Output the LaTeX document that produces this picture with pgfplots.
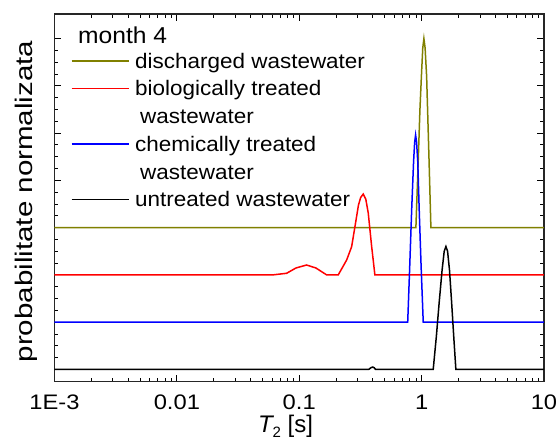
\documentclass[border=0pt]{standalone}
\usepackage{pgfplots}
\pgfplotsset{compat=1.18}
\usepackage{fontspec}
\setmainfont{Liberation Sans}
\newfontfamily\tickfont[FakeStretch=1.13]{Liberation Sans}
\newfontfamily\legfont[FakeStretch=1.07]{Liberation Sans}
\newfontfamily\ylabfont[FakeStretch=1.23]{Liberation Sans}
\definecolor{olivec}{RGB}{128,128,0}
\begin{document}
\begin{tikzpicture}
\path[use as bounding box] (-54.5pt,-59.3pt) rectangle (505.5pt,381.7pt);
\begin{axis}[
  at={(0,0)}, anchor=south west,
  scale only axis, width=489.5pt, height=367.7pt,
  xmode=log, xmin=1e-3, xmax=10,
  ymin=-0.26, ymax=7.52,
  xtick={0.001,0.01,0.1,1,10},
  xticklabels={1E-3,0.01,0.1,1,10},
  ytick={0,1,2,3,4,5,6,7},
  yticklabels={},
  minor y tick num=3,
  tick align=inside,
  major tick length=7pt, minor tick length=4pt,
  every tick/.style={black, line width=0.9pt},
  axis line style={black!85, line width=1.2pt},
  xticklabel style={font=\tickfont\fontsize{21}{25}\selectfont, inner sep=0pt, yshift=-13pt},
  xlabel={{\itshape T}\raisebox{-0.22em}{\fontsize{15}{17}\selectfont 2} [s]},
  xlabel style={at={(axis description cs:0.472,0)}, anchor=north, inner sep=0pt, yshift=-33pt, font=\fontsize{24}{27}\selectfont},
  ylabel={probabilitate normalizata},
  ylabel style={at={(axis description cs:-0.0337,0.49)}, anchor=south, inner sep=0pt, rotate=0, font=\ylabfont\fontsize{24}{28}\selectfont},
  legend cell align=left,
  legend style={at={(axis description cs:0.0337,0.9054)}, anchor=north west, draw=none, fill=none, inner sep=0pt, outer sep=0pt, row sep=0pt, column sep=6pt,
    nodes={inner sep=0pt, text height=19.5pt, text depth=8.2pt, anchor=base west, font=\legfont\fontsize{21}{25}\selectfont}},
  legend image code/.code={\draw[#1, line width=1.2pt] (0pt,7.3pt) -- (57pt,7.3pt);},
  every axis plot/.append style={line width=1.5pt},
]
\addplot[olivec] coordinates {
(0.001,3) (0.898,3) (0.935,4.3) (0.969,5.5) (1.0,6.3) (1.022,6.8) (1.044,7.0) (1.068,6.8) (1.099,6.2) (1.148,4.5) (1.191,3) (10,3)};
\addlegendentry{discharged wastewater}
\addplot[red] coordinates {
(0.001,2) (0.061,2) (0.0789,2.034) (0.094,2.146) (0.1148,2.209) (0.1368,2.146) (0.1674,2) (0.2084,2) (0.244,2.315) (0.268,2.596) (0.2852,3.019) (0.3048,3.478) (0.318,3.64) (0.3335,3.71) (0.35,3.6) (0.3664,3.309) (0.3908,2.596) (0.404,2.27) (0.415,2) (10,2)};
\addlegendentry{biologically treated}
\addlegendimage{empty legend}
\addlegendentry{\hspace{5pt}wastewater}
\addplot[blue] coordinates {
(0.001,1) (0.77,1) (0.80,2.2) (0.83,3.4) (0.86,4.4) (0.877,4.8) (0.893,4.96) (0.91,4.8) (0.93,4.4) (0.955,3.4) (0.99,2.2) (1.031,1) (10,1)};
\addlegendentry{chemically treated}
\addlegendimage{empty legend}
\addlegendentry{\hspace{5pt}wastewater}
\addplot[black] coordinates {
(0.001,0) (0.37,0) (0.385,0.035) (0.398,0.05) (0.41,0.035) (0.42,0) (1.244,0) (1.32,0.7) (1.393,1.43) (1.47,2.1) (1.53,2.5) (1.58,2.6) (1.63,2.5) (1.69,2.1) (1.758,1.43) (1.83,0.7) (1.905,0) (10,0)};
\addlegendentry{untreated wastewater}
\node[anchor=base west, inner sep=0pt, font=\legfont\fontsize{23}{27}\selectfont] at (axis description cs:0.048,0.9211) {month 4};
\end{axis}
\end{tikzpicture}
\end{document}
